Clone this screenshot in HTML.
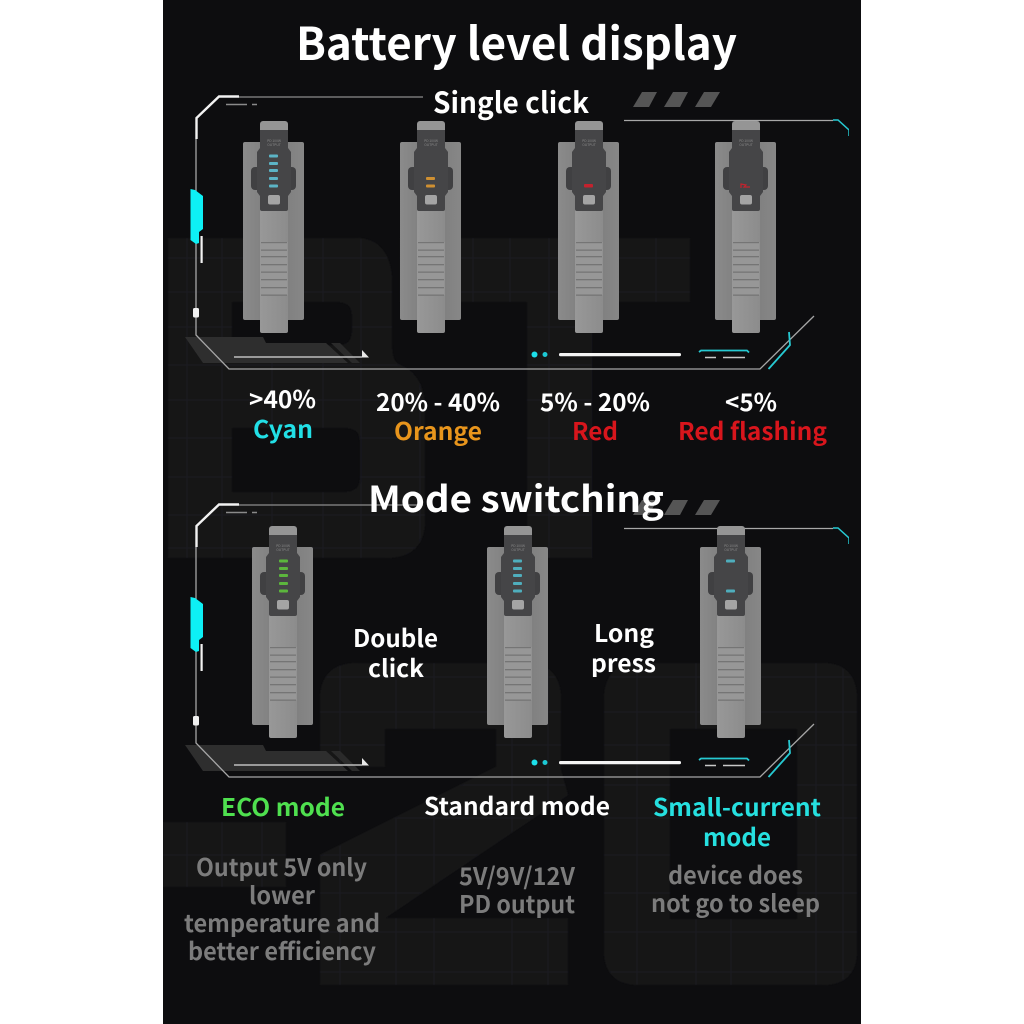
<!DOCTYPE html>
<html><head><meta charset="utf-8"><title>Battery level display</title>
<style>
html,body{margin:0;padding:0;background:#fff}
svg{display:block}
text{font-family:"Noto Sans CJK SC","Liberation Sans",sans-serif;text-anchor:start}
.t{font-weight:700;fill:#fff}
.m{font-weight:700;fill:#fff}
.g{font-weight:700;fill:#7b7b7b}
.s{font-size:3.4px;fill:#8a8a8a;text-anchor:middle;font-weight:400}
</style></head>
<body>
<svg width="1024" height="1024" viewBox="0 0 1024 1024" xmlns="http://www.w3.org/2000/svg">
<defs>
<filter id="soft" x="0" y="0" width="100%" height="100%"><feGaussianBlur stdDeviation="0.35"/></filter>
<filter id="soft2" x="0" y="0" width="100%" height="100%"><feGaussianBlur stdDeviation="0.9"/></filter>
<linearGradient id="pl" x1="0" x2="1" y1="0" y2="0"><stop offset="0" stop-color="#8b8b8b"/><stop offset=".5" stop-color="#7b7b7b"/><stop offset="1" stop-color="#878787"/></linearGradient>
<linearGradient id="bd" x1="0" x2="1" y1="0" y2="0"><stop offset="0" stop-color="#989898"/><stop offset="1" stop-color="#8c8c8c"/></linearGradient>
<path id="ghost" fill-rule="evenodd" clip-rule="evenodd" d="
M168,238 H355 Q390,238 392,280 V345 Q392,362 400,365 Q425,375 425,410 V520 Q425,558 385,558 H168 Z
M232,302 V345 H340 Q352,345 352,330 V316 Q352,302 338,302 Z
M232,428 V492 H345 Q360,492 360,478 V442 Q360,428 346,428 Z
M400,238 H690 V302 H592 V558 H527 V302 H400 Z
M163,822 H286 V887 H163 Z
M320,700 Q320,663 358,663 H525 Q561,663 561,700 V770 L568,795 L385,918 H568 V985 H320 V855 L496,767 V729 H385 V767 H320 Z
M604,700 Q604,663 640,663 H822 Q857,663 857,700 V950 Q857,985 822,985 H640 Q604,985 604,950 Z
M670,729 V919 H797 V729 Z"/>
<clipPath id="gc"><use href="#ghost"/></clipPath>

<g id="frame">
<polygon points="185,337 263,337 266,343 326,343 348,363 203,363" fill="#2e2e2f"/>
<polygon points="331,343 340,343 360,363 352,363" fill="#2a2a2b"/>
<path d="M239,97 H423" stroke="#8c8c8c" stroke-width="1.3" fill="none"/>
<path d="M239,96.500 H219 L196.500,118 V139" stroke="#f2f2f2" stroke-width="2.4" fill="none"/>
<path d="M196,139 V335 L229,369 H760 L814,316" stroke="#a6a6a6" stroke-width="1.3" fill="none"/>
<path d="M226,104.500 H247 M252,104.500 H257" stroke="#8a8a8a" stroke-width="1.400" fill="none"/>
<rect x="193" y="308" width="6" height="9.500" rx="1.500" fill="#f0f0f0"/>
<polygon points="190.500,189 195,190 203,196 203,229 199,232 199,243 196,244 190.500,240" fill="#0ff0f5"/>
<rect x="200.500" y="236" width="2.200" height="27" fill="#f2f2f2"/>
<path d="M234,357 H362" stroke="#bdbdbd" stroke-width="1.600"/>
<polygon points="362,350 369,357.500 362,357.500" fill="#e8e8e8"/>
<circle cx="534.500" cy="354.500" r="3" fill="#1fe0ea"/>
<circle cx="545" cy="354.500" r="2.500" fill="#1fc8d4"/>
<rect x="559" y="353" width="122" height="3.200" rx="1.500" fill="#f4f4f4"/>
<path d="M699,352 L701,350.500 H747 L749,352.500" stroke="#27c9d2" stroke-width="1.800" fill="none"/>
<path d="M705,357.500 H716 M723,357.500 H745" stroke="#c8c8c8" stroke-width="1.600" fill="none"/>
<path d="M768.500,369 L790,345 L789,332" stroke="#27c9d2" stroke-width="1.800" fill="none"/>
<path d="M624,120.500 H833" stroke="#a8a8a8" stroke-width="1.300" fill="none"/>
<path d="M833,120 H838 L849,130 V136" stroke="#27c9d2" stroke-width="1.500" fill="none"/>
<polygon points="633,107 642,92 657,92 649,107" fill="#555"/>
<polygon points="664,107 673,92 688,92 680,107" fill="#555"/>
<polygon points="695,107 704,92 720,92 711,107" fill="#555"/>
</g>

<g id="dev">
<rect x="0" y="0" width="61" height="178" rx="2" fill="url(#pl)"/>
<rect x="8" y="25" width="45" height="23" rx="4" fill="#404042"/>
<rect x="17" y="60" width="28" height="131" rx="2" fill="url(#bd)"/>
<rect x="17" y="-21" width="28" height="18" rx="3" fill="#959595"/>
<path d="M17,-12 H45 V6 L48,10 V50 L45,54 V67 Q45,69 43,69 H19 Q17,69 17,67 V54 L14,50 V10 L17,6 Z" fill="#444446"/>
<rect x="25" y="53" width="12" height="9.500" rx="2" fill="#a4a4a4"/>
<rect x="17.500" y="100" width="27" height="53" fill="#979797"/>
<g fill="#747474">
<rect x="18" y="100" width="26" height="1.200"/><rect x="18" y="107.500" width="26" height="1.300"/>
<rect x="18" y="114" width="26" height="1.300"/><rect x="18" y="122" width="26" height="1.300"/>
<rect x="18" y="129.500" width="26" height="1.300"/><rect x="18" y="137" width="26" height="1.300"/>
<rect x="18" y="145" width="26" height="1.300"/><rect x="18" y="152.500" width="26" height="1.300"/>
</g>
</g>
</defs>

<rect x="163" y="0" width="698" height="1024" fill="#0d0d0f"/>
<g filter="url(#soft2)">
<use href="#ghost" fill="#131315"/>
<g clip-path="url(#gc)" stroke="#1e1e20" stroke-width="1.100" fill="none">
<path d="M187,230V560 M222,230V560 M272,230V560 M323,230V560 M361,230V560 M420,230V560 M473,230V560 M510,230V560 M549,230V560 M592,230V560 M656,230V310"/>
<path d="M163,258H700 M163,292H700 M163,327H700 M163,365H700 M163,400H700 M163,438H700 M163,477H700 M163,515H700 M163,548H700"/>
<path d="M187,815V990 M222,815V990 M262,815V990 M340,660V990 M396,660V990 M434,660V990 M512,660V990 M548,660V990 M637,660V990 M696,660V990 M731,660V990 M816,660V990 M843,660V990"/>
<path d="M163,677H860 M163,712H860 M163,745H860 M163,785H860 M163,818H860 M163,855H860 M163,893H860 M163,932H860 M163,972H860"/>
</g>
</g>

<g filter="url(#soft)">
<use href="#frame"/>
<use href="#frame" y="408"/>

<!-- row 1 devices -->
<g transform="translate(243,142)"><use href="#dev"/><text class="s" x="31" y="0">PD 100W</text><text class="s" x="31" y="4">OUTPUT</text>
<g fill="#5bb4c6"><rect x="26" y="12.500" width="9" height="3" rx="1"/><rect x="26" y="20" width="9" height="3" rx="1"/><rect x="26" y="27" width="9" height="3" rx="1"/><rect x="26" y="35" width="9" height="3" rx="1"/><rect x="26" y="42.500" width="9" height="3" rx="1"/></g></g>
<g transform="translate(400,142)"><use href="#dev"/><text class="s" x="31" y="0">PD 100W</text><text class="s" x="31" y="4">OUTPUT</text>
<g fill="#cf9030"><rect x="26" y="35" width="9" height="3" rx="1"/><rect x="26" y="42.500" width="9" height="3" rx="1"/></g></g>
<g transform="translate(558,142)"><use href="#dev"/><text class="s" x="31" y="0">PD 100W</text><text class="s" x="31" y="4">OUTPUT</text>
<rect x="26" y="42" width="9" height="3.500" rx="1" fill="#c4242e"/></g>
<g transform="translate(715,142)"><use href="#dev"/><text class="s" x="31" y="0">PD 100W</text><text class="s" x="31" y="4">OUTPUT</text>
<path d="M26,46 V42 L31,43 L29,45 H35" stroke="#c4242e" stroke-width="1.200" fill="none"/></g>

<!-- row 2 devices -->
<g transform="translate(252,547)"><use href="#dev"/><text class="s" x="31" y="0">PD 100W</text><text class="s" x="31" y="4">OUTPUT</text>
<g fill="#5cb63c"><rect x="27" y="12.500" width="9" height="3" rx="1"/><rect x="27" y="20" width="9" height="3" rx="1"/><rect x="27" y="27" width="9" height="3" rx="1"/><rect x="27" y="35" width="9" height="3" rx="1"/><rect x="27" y="42.500" width="9" height="3" rx="1"/></g></g>
<g transform="translate(487,547)"><use href="#dev"/><text class="s" x="31" y="0">PD 100W</text><text class="s" x="31" y="4">OUTPUT</text>
<g fill="#50aebd"><rect x="26" y="12.500" width="9" height="3" rx="1"/><rect x="26" y="20" width="9" height="3" rx="1"/><rect x="26" y="27" width="9" height="3" rx="1"/><rect x="26" y="35" width="9" height="3" rx="1"/><rect x="26" y="42.500" width="9" height="3" rx="1"/></g></g>
<g transform="translate(700,547)"><use href="#dev"/><text class="s" x="31" y="0">PD 100W</text><text class="s" x="31" y="4">OUTPUT</text>
<g fill="#50aebd"><rect x="26" y="12.500" width="9" height="3" rx="1"/><rect x="26" y="42.500" width="9" height="3" rx="1"/></g></g>

<!-- text -->
<text class="t" x="296" y="60" font-size="45" textLength="441" lengthAdjust="spacingAndGlyphs">Battery level display</text>
<text class="t" x="433" y="113" font-size="29" textLength="156" lengthAdjust="spacingAndGlyphs">Single click</text>

<text class="m" x="249" y="408" font-size="24" textLength="67" lengthAdjust="spacingAndGlyphs">&gt;40%</text>
<text class="t" x="253" y="438" font-size="24" textLength="60" lengthAdjust="spacingAndGlyphs" style="fill:#22dfe6">Cyan</text>
<text class="m" x="376" y="411" font-size="24" textLength="124" lengthAdjust="spacingAndGlyphs">20% - 40%</text>
<text class="t" x="394" y="440" font-size="24" textLength="88" lengthAdjust="spacingAndGlyphs" style="fill:#e8951e">Orange</text>
<text class="m" x="540" y="411" font-size="24" textLength="110" lengthAdjust="spacingAndGlyphs">5% - 20%</text>
<text class="t" x="572" y="440" font-size="24" textLength="46" lengthAdjust="spacingAndGlyphs" style="fill:#d8121e">Red</text>
<text class="m" x="725" y="411" font-size="24" textLength="52" lengthAdjust="spacingAndGlyphs">&lt;5%</text>
<text class="t" x="678" y="440" font-size="24" textLength="149" lengthAdjust="spacingAndGlyphs" style="fill:#d8121e">Red flashing</text>

<text class="t" x="368" y="512" font-size="36" textLength="296" lengthAdjust="spacingAndGlyphs">Mode switching</text>

<text class="t" x="353" y="647" font-size="24" textLength="85" lengthAdjust="spacingAndGlyphs">Double</text>
<text class="t" x="368" y="677" font-size="24" textLength="56" lengthAdjust="spacingAndGlyphs">click</text>
<text class="t" x="594" y="642" font-size="24" textLength="60" lengthAdjust="spacingAndGlyphs">Long</text>
<text class="t" x="591" y="672" font-size="24" textLength="65" lengthAdjust="spacingAndGlyphs">press</text>

<text class="t" x="221" y="816" font-size="24" textLength="124" lengthAdjust="spacingAndGlyphs" style="fill:#4fe04f">ECO mode</text>
<text class="t" x="424" y="815" font-size="24" textLength="186" lengthAdjust="spacingAndGlyphs">Standard mode</text>
<text class="t" x="653" y="816" font-size="24" textLength="168" lengthAdjust="spacingAndGlyphs" style="fill:#25e0e0">Small-current</text>
<text class="t" x="703" y="846" font-size="24" textLength="68" lengthAdjust="spacingAndGlyphs" style="fill:#25e0e0">mode</text>

<text class="g" x="196" y="876" font-size="24" textLength="171" lengthAdjust="spacingAndGlyphs">Output 5V only</text>
<text class="g" x="249" y="904" font-size="24" textLength="66" lengthAdjust="spacingAndGlyphs">lower</text>
<text class="g" x="184" y="932" font-size="24" textLength="196" lengthAdjust="spacingAndGlyphs">temperature and</text>
<text class="g" x="188" y="960" font-size="24" textLength="188" lengthAdjust="spacingAndGlyphs">better efficiency</text>
<text class="g" x="459" y="885" font-size="24" textLength="116" lengthAdjust="spacingAndGlyphs">5V/9V/12V</text>
<text class="g" x="459" y="913" font-size="24" textLength="116" lengthAdjust="spacingAndGlyphs">PD output</text>
<text class="g" x="668" y="884" font-size="24" textLength="135" lengthAdjust="spacingAndGlyphs">device does</text>
<text class="g" x="651" y="912" font-size="24" textLength="169" lengthAdjust="spacingAndGlyphs">not go to sleep</text>
</g>
</svg>
</body></html>
